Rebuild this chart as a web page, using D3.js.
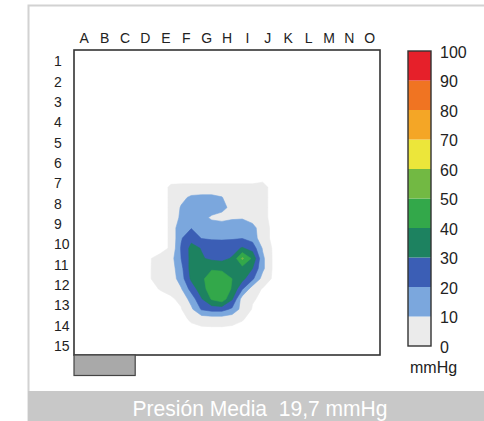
<!DOCTYPE html>
<html>
<head>
<meta charset="utf-8">
<script src="https://cdn.jsdelivr.net/npm/d3@7"></script>
<style>
  html, body { margin: 0; padding: 0; background: #ffffff; }
  svg { display: block; }
  text { font-family: "Liberation Sans", Arial, Helvetica, sans-serif; }
</style>
</head>
<body>
<svg id="chart" width="484" height="421"></svg>
<script>
// ---------------- data ----------------
const colLabels = ["A","B","C","D","E","F","G","H","I","J","K","L","M","N","O"];
const rowLabels = ["1","2","3","4","5","6","7","8","9","10","11","12","13","14","15"];
const legendTicks = [0, 10, 20, 30, 40, 50, 60, 70, 80, 90, 100];
const bandLower = [0, 10, 20, 30, 40, 50, 60, 70, 80, 90];
const bandColors = ["#ebebeb", "#7ba7dd", "#3b5eb5", "#1d8260", "#33a84a",
                    "#72b943", "#ece63a", "#f4a626", "#f07422", "#e6202a"];
const contactThreshold = 1;          // below this: no contact (white)
const sensorRows = 30;               // half-cell sensor grid (2 per labelled row)
const sensorCols = 30;
const blobRowStart = 13;             // first sensor row of the reading window
const blobColStart = 7;              // first sensor column of the reading window
// pressure readings (mmHg), rows 13..26, columns 7..18 of the sensor grid
const blobValues = [
  [0,   0,   1.4, 1.5, 1.5, 1.5, 1.5, 1.5, 1.5, 1.5, 1.5, 2  ],
  [0,   0,   1.4, 7,   12,  13,  13,  10.5,3,   2,   2,   2  ],
  [0,   0,   1.4, 11,  16,  17,  16,  14,  6,   2.5, 2,   2  ],
  [0,   0,   1.4, 12.5,16,  14,  8,   5,   8,   9,   5,   2  ],
  [0,   0,   1.4, 19,  19.5,17,  17,  19,  19,  17,  14,  3  ],
  [0,   0,   1.4, 19,  27,  19.5,19,  19,  19,  19.5,16,  3  ],
  [0,   0,   1.4, 21,  33,  29.5,25,  24,  26,  31,  26,  9  ],
  [0.9, 2,   6,   20,  33,  31,  28,  27,  31,  52,  38,  12 ],
  [0.9, 2.5, 5,   17,  34,  34,  39,  38,  34,  36,  30,  12 ],
  [0.9, 2.5, 4,   15,  32,  38,  45,  46,  40,  33,  22,  6  ],
  [0.3, 1.2, 3,   9,   24,  36,  45,  47,  39,  21,  4.3, 0.5],
  [0,   0,   0,   2.5, 14,  29,  41,  46,  31,  5,   1.5, 0  ],
  [0,   0,   0,   0.5, 8,   21,  24,  24,  18,  6,   0.5, 0  ],
  [0,   0,   0,   0,   1.5, 3,   3.5, 3.5, 2.5, 1.2, 0,   0  ]
];
const footerText = "Presión Media  19,7 mmHg";
const unitLabel = "mmHg";

// ---------------- build grid ----------------
const values = new Array(sensorRows * sensorCols).fill(0);
blobValues.forEach((row, r) => row.forEach((v, c) => {
  values[(blobRowStart + r) * sensorCols + (blobColStart + c)] = v;
}));

// ---------------- layout ----------------
const svg = d3.select("#chart");
const plot = { left: 74, top: 50, right: 380, bottom: 355 };

// panel frame
svg.append("rect").attr("x", 28.5).attr("y", 5.5).attr("width", 470).attr("height", 420)
  .attr("fill", "#ffffff").attr("stroke", "#d2d2d2").attr("stroke-width", 2);

const xGrid = d3.scaleLinear().domain([0, sensorCols]).range([plot.left, plot.right]);
const yGrid = d3.scaleLinear().domain([0, sensorRows]).range([plot.top, plot.bottom]);
const xCol = d3.scaleBand().domain(colLabels).range([plot.left, plot.right]);
const yRow = d3.scaleBand().domain(rowLabels).range([plot.top, plot.bottom]);

// plot background
svg.append("rect").attr("x", plot.left).attr("y", plot.top)
  .attr("width", plot.right - plot.left).attr("height", plot.bottom - plot.top)
  .attr("fill", "#ffffff");

// contours
const thresholds = bandLower.map(v => Math.max(v, contactThreshold));
const contours = d3.contours().size([sensorCols, sensorRows]).thresholds(thresholds)(values);
const proj = d3.geoTransform({ point(x, y) { this.stream.point(xGrid(x), yGrid(y)); } });
const path = d3.geoPath(proj);
svg.append("g").selectAll("path").data(contours).join("path")
  .attr("d", path)
  .attr("fill", (d, i) => bandColors[i])
  .attr("stroke", (d, i) => bandColors[i])
  .attr("stroke-width", 0.6);

// plot frame
svg.append("rect").attr("x", plot.left).attr("y", plot.top)
  .attr("width", plot.right - plot.left).attr("height", plot.bottom - plot.top)
  .attr("fill", "none").attr("stroke", "#333333").attr("stroke-width", 1.6);

// small tab below plot
svg.append("rect").attr("x", plot.left).attr("y", plot.bottom)
  .attr("width", xCol.bandwidth() * 3).attr("height", 20.5)
  .attr("fill", "#a9a9a9").attr("stroke", "#444444").attr("stroke-width", 1.2);

// column labels
svg.append("g").selectAll("text").data(colLabels).join("text")
  .attr("x", d => xCol(d) + xCol.bandwidth() / 2)
  .attr("y", 43)
  .attr("text-anchor", "middle")
  .attr("font-size", 14)
  .attr("fill", "#222222")
  .text(d => d);

// row labels
svg.append("g").selectAll("text").data(rowLabels).join("text")
  .attr("x", 54)
  .attr("y", d => yRow(d) + yRow.bandwidth() / 2 + 1)
  .attr("dy", "0.36em")
  .attr("text-anchor", "start")
  .attr("font-size", 14)
  .attr("fill", "#222222")
  .text(d => d);

// legend
const legend = { x: 408, w: 23 };
const yLegend = d3.scaleLinear().domain([0, 100]).range([346, 51]);
svg.append("g").selectAll("rect").data(bandLower).join("rect")
  .attr("x", legend.x)
  .attr("y", d => yLegend(d + 10))
  .attr("width", legend.w)
  .attr("height", d => yLegend(d) - yLegend(d + 10))
  .attr("fill", (d, i) => bandColors[i]);
svg.append("rect").attr("x", legend.x).attr("y", yLegend(100))
  .attr("width", legend.w).attr("height", yLegend(0) - yLegend(100))
  .attr("fill", "none").attr("stroke", "#333333").attr("stroke-width", 1.4);
svg.append("g").selectAll("text").data(legendTicks).join("text")
  .attr("x", 440)
  .attr("y", d => yLegend(d) + 1)
  .attr("dy", "0.36em")
  .attr("font-size", 16)
  .attr("fill", "#222222")
  .text(d => d);
svg.append("text").attr("x", 410).attr("y", 373)
  .attr("font-size", 16).attr("fill", "#222222").text(unitLabel);

// footer
svg.append("rect").attr("x", 28).attr("y", 391).attr("width", 460).attr("height", 30)
  .attr("fill", "#c8c8c8");
svg.append("text")
  .attr("x", 260).attr("y", 416)
  .attr("text-anchor", "middle")
  .attr("font-size", 22)
  .attr("fill", "#ffffff")
  .attr("textLength", 255)
  .attr("lengthAdjust", "spacingAndGlyphs")
  .style("font-family", "'Liberation Sans Narrow', 'Arial Narrow', 'Liberation Sans', Arial, sans-serif")
  .style("white-space", "pre")
  .text(footerText);
</script>
</body>
</html>
